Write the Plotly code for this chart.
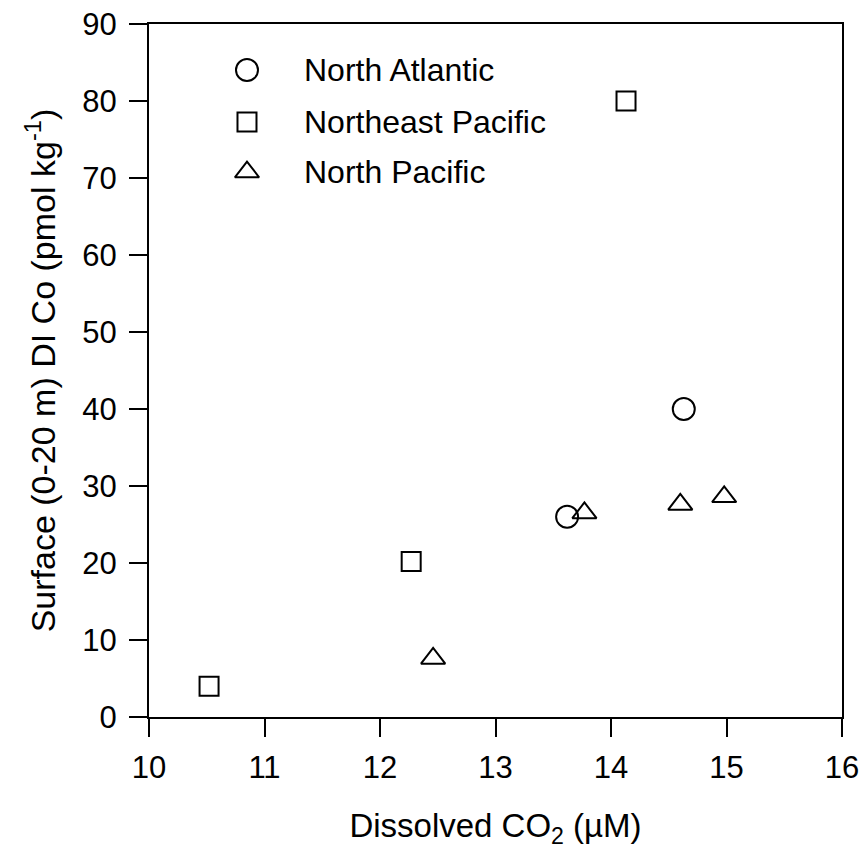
import plotly.graph_objects as go

# Data
atl_x = [13.62, 14.63]
atl_y = [26, 40]
nep_x = [10.52, 12.27, 14.13]
nep_y = [4, 20.2, 80]
np_x = [12.46, 13.77, 14.6, 14.98]
np_y = [7.6, 26.5, 27.6, 28.6]

series_names = ["North Atlantic", "Northeast Pacific", "North Pacific"]
series = [
    (series_names[0], atl_x, atl_y, "circle-open", 22),
    (series_names[1], nep_x, nep_y, "square-open", 19),
    (series_names[2], np_x, np_y, "triangle-up-open", 21),
]

# legend layout (paper fractions of plot area)
leg_sym_x = 0.1414
leg_txt_x = 0.2215
leg_rows_y = [0.9336, 0.8586, 0.7864]

font = "Liberation Sans, Arial, sans-serif"
fig = go.Figure()
annotations = []
for i, (name, xs, ys, sym, sz) in enumerate(series):
    mk = dict(symbol=sym, size=sz, color="black", line=dict(color="black", width=2))
    fig.add_trace(go.Scatter(x=xs, y=ys, mode="markers", name=name,
                             marker=mk, showlegend=False))
    # legend key on overlay axes
    fig.add_trace(go.Scatter(x=[leg_sym_x], y=[leg_rows_y[i]], mode="markers",
                             marker=mk, showlegend=False, hoverinfo="skip",
                             xaxis="x2", yaxis="y2"))
    annotations.append(dict(x=leg_txt_x, y=leg_rows_y[i], xref="paper", yref="paper",
                            text=name, showarrow=False, xanchor="left", yanchor="middle",
                            font=dict(size=32, family=font, color="black")))

fig.update_layout(
    width=866, height=857,
    margin=dict(l=149, r=24, t=24, b=140),
    plot_bgcolor="white", paper_bgcolor="white",
    font=dict(family=font, color="black", size=31),
    showlegend=False,
    annotations=annotations,
    xaxis=dict(range=[10, 16], tickvals=[10, 11, 12, 13, 14, 15, 16],
               ticks="outside", ticklen=18, tickwidth=2, tickcolor="black",
               showline=True, linecolor="black", linewidth=2, mirror=True,
               showgrid=False, zeroline=False, automargin=False,
               tickfont=dict(size=31, family=font, color="black"),
               ticklabelstandoff=4,
               title=dict(text="Dissolved CO<sub>2</sub> (µM)", font=dict(size=33, family=font, color="black"), standoff=30)),
    yaxis=dict(range=[0, 90], tickvals=list(range(0, 91, 10)),
               ticks="outside", ticklen=18, tickwidth=2, tickcolor="black",
               showline=True, linecolor="black", linewidth=2, mirror=True,
               showgrid=False, zeroline=False, automargin=False,
               tickfont=dict(size=31, family=font, color="black"),
               ticklabelstandoff=6,
               title=dict(text="Surface (0-20 m) DI Co (pmol kg<sup>-1</sup>)", font=dict(size=34, family=font, color="black"), standoff=16)),
    xaxis2=dict(range=[0, 1], overlaying="x", visible=False, fixedrange=True),
    yaxis2=dict(range=[0, 1], overlaying="y", visible=False, fixedrange=True),
)

fig.write_html("out.html")
